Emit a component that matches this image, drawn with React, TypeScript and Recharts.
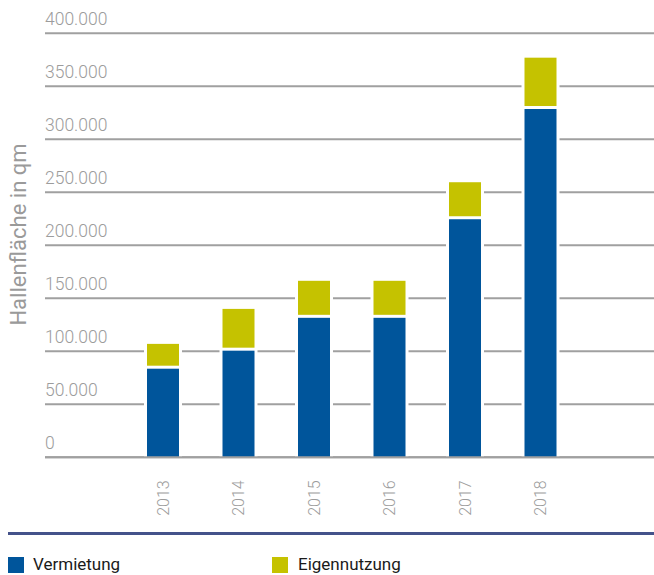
import { BarChart, Bar, XAxis, YAxis, CartesianGrid } from "recharts";

const years = ["2013", "2014", "2015", "2016", "2017", "2018"];
const vermietung = [85000, 102000, 133000, 133000, 226000, 330000];
const eigennutzung = [22000, 38000, 33500, 33500, 33500, 47000];
const yTicks = [0, 50000, 100000, 150000, 200000, 250000, 300000, 350000, 400000];

const data = years.map((year, i) => ({
  year,
  vermietung: vermietung[i],
  eigennutzung: eigennutzung[i],
}));

const BLUE = "#00559b";
const YELLOW = "#c5c200";
const GRID = "#a0a0a0";
const LABEL = "#9c9c9c";
const FONT = "Roboto, 'Open Sans', sans-serif";

const fmt = (v: number) => (v === 0 ? "0" : v.toLocaleString("de-DE"));

function YTick(props: any) {
  const { y, payload } = props;
  return (
    <text x={45} y={y - 8} fill={LABEL} fontSize={17.5} fontFamily={FONT} fontWeight={300} textAnchor="start">
      {fmt(payload.value)}
    </text>
  );
}

function XTick(props: any) {
  const { x, y, payload } = props;
  return (
    <text
      transform={`translate(${x + 6},${y + 15}) rotate(-90)`}
      fill={LABEL}
      fontSize={16}
      fontFamily={FONT}
      fontWeight={300}
      textAnchor="end"
    >
      {payload.value}
    </text>
  );
}

// segment with white halo, gap between stacked pieces
function Segment(props: any) {
  const { x, y, width, height, fill, bottom } = props;
  if (!height || height <= 0) return null;
  const top = bottom ? y + 1.5 : y;
  const h = height - 1.5;
  return (
    <g>
      <rect x={x - 3} y={y} width={width + 6} height={height} fill="#fff" />
      <rect x={x} y={top} width={width} height={Math.max(h, 0)} fill={fill} />
    </g>
  );
}

export default function App() {
  return (
    <div style={{ position: "absolute", left: 0, top: 0, width: 654, height: 575, background: "#fff", overflow: "hidden", fontFamily: FONT }}>
      <BarChart
        width={654}
        height={520}
        data={data}
        margin={{ top: 33.3, right: 0, left: 0, bottom: 0 }}
      >
        <CartesianGrid horizontal vertical={false} stroke={GRID} strokeWidth={2} />
        <XAxis
          dataKey="year"
          height={62.7}
          interval={0}
          tickLine={false}
          axisLine={{ stroke: GRID, strokeWidth: 2 }}
          padding={{ left: 80, right: 76 }}
          tick={<XTick />}
        />
        <YAxis
          type="number"
          domain={[0, 400000]}
          ticks={yTicks}
          width={45}
          interval={0}
          axisLine={false}
          tickLine={false}
          tick={<YTick />}
        />
        <Bar
          dataKey="vermietung"
          stackId="a"
          fill={BLUE}
          barSize={32}
          isAnimationActive={false}
          shape={(p: any) => <Segment {...p} bottom />}
        />
        <Bar
          dataKey="eigennutzung"
          stackId="a"
          fill={YELLOW}
          barSize={32}
          isAnimationActive={false}
          shape={(p: any) => <Segment {...p} />}
        />
        <text
          transform="translate(26,234.5) rotate(-90)"
          textAnchor="middle"
          fill="#9a9a9a"
          fontSize={22}
          fontFamily={FONT}
        >
          Hallenfläche in qm
        </text>
      </BarChart>
      <div style={{ position: "absolute", left: 8, top: 531.5, width: 646, height: 3, background: "#44528a" }} />
      <div style={{ position: "absolute", left: 8, top: 557, width: 16, height: 16, background: BLUE }} />
      <div style={{ position: "absolute", left: 33, top: 555, fontSize: 17, lineHeight: "18px", color: "#1a1a1a" }}>Vermietung</div>
      <div style={{ position: "absolute", left: 272, top: 557, width: 16, height: 16, background: YELLOW }} />
      <div style={{ position: "absolute", left: 298, top: 555, fontSize: 17, lineHeight: "18px", color: "#1a1a1a" }}>Eigennutzung</div>
    </div>
  );
}
